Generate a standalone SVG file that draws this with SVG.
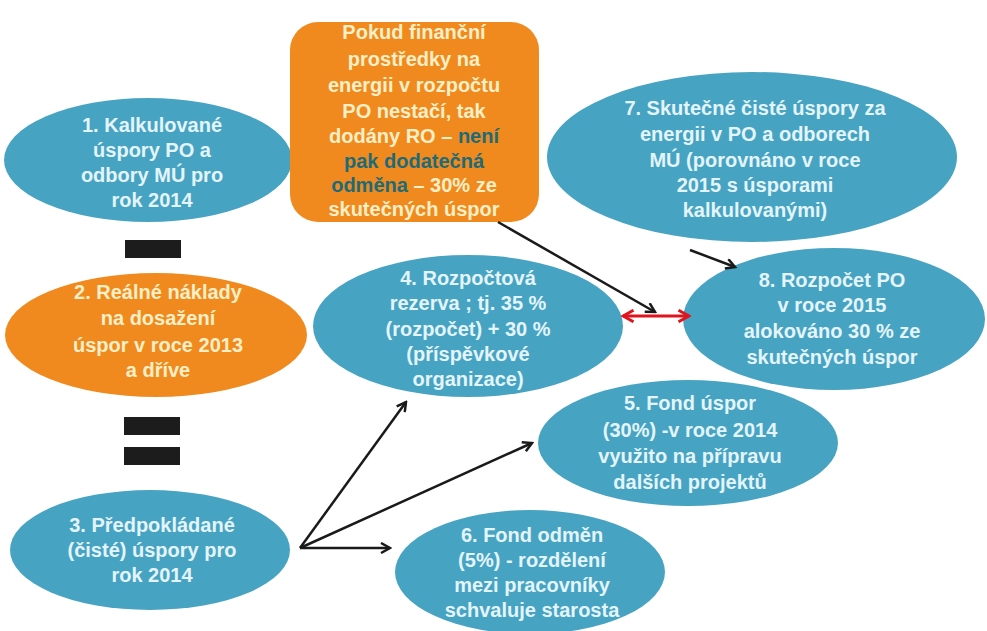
<svg xmlns="http://www.w3.org/2000/svg" width="987" height="631" viewBox="0 0 987 631">
<defs>
<style>
.blue{fill:#47a3c2}
.orange{fill:#f08a1e}
.t{font-family:"Liberation Sans",Arial,sans-serif;font-weight:bold;font-size:20px;text-anchor:middle}
.tb{fill:#e3f5fa}
.to{fill:#fbefc6}
.hl{fill:#1d6b78}
.ln{stroke:#1a1a1a;stroke-width:2.5;fill:none}
.bar{fill:#1c1c1c}
</style>
<marker id="ah" viewBox="0 0 12 12" refX="10" refY="6" markerWidth="12" markerHeight="12" markerUnits="userSpaceOnUse" orient="auto">
<path d="M1,1 L10,6 L1,11" fill="none" stroke="#1a1a1a" stroke-width="2.5"/>
</marker>
<marker id="rh" viewBox="0 0 12 12" refX="10" refY="6" markerWidth="14" markerHeight="14" markerUnits="userSpaceOnUse" orient="auto-start-reverse">
<path d="M1,1 L10,6 L1,11" fill="none" stroke="#e0141c" stroke-width="2.5"/>
</marker>
</defs>
<rect width="987" height="631" fill="#ffffff"/>

<g id="node7">
<ellipse class="blue" cx="752" cy="157" rx="205" ry="85"/>
<text class="t tb"><tspan x="755" y="115">7. Skutečné čisté úspory  za</tspan><tspan x="755" y="141">energii v PO a odborech</tspan><tspan x="755" y="167">MÚ (porovnáno  v roce</tspan><tspan x="755" y="192">2015 s úsporami</tspan><tspan x="755" y="217">kalkulovanými)</tspan></text>
</g>

<g id="node1">
<ellipse class="blue" cx="148" cy="160" rx="144" ry="62"/>
<text class="t tb"><tspan x="152" y="132">1. Kalkulované</tspan><tspan x="152" y="157">úspory PO a</tspan><tspan x="152" y="182">odbory MÚ pro</tspan><tspan x="152" y="207">rok 2014</tspan></text>
</g>

<g id="box">
<rect class="orange" x="290" y="22" width="249" height="200" rx="28"/>
<text class="t to"><tspan x="414" y="39">Pokud finanční</tspan><tspan x="414" y="66">prostředky na</tspan><tspan x="414" y="92">energii v rozpočtu</tspan><tspan x="414" y="118">PO nestačí, tak</tspan><tspan x="414" y="143">dodány RO – <tspan class="hl">není</tspan></tspan><tspan x="414" y="168" class="hl">pak dodatečná</tspan><tspan x="414" y="192"><tspan class="hl">odměna</tspan> – 30% ze</tspan><tspan x="414" y="216">skutečných úspor</tspan></text>
</g>

<g id="minus">
<rect class="bar" x="125" y="240" width="56" height="18"/>
</g>

<g id="node2">
<ellipse class="orange" cx="156" cy="335" rx="151" ry="62"/>
<text class="t to"><tspan x="158" y="299">2. Reálné náklady</tspan><tspan x="158" y="325">na dosažení</tspan><tspan x="158" y="352">úspor v roce  2013</tspan><tspan x="158" y="377">a dříve</tspan></text>
</g>

<g id="equals">
<rect class="bar" x="124" y="417" width="56" height="18"/>
<rect class="bar" x="124" y="447" width="56" height="18"/>
</g>

<g id="node3">
<ellipse class="blue" cx="150" cy="550" rx="140" ry="60"/>
<text class="t tb"><tspan x="152" y="532">3. Předpokládané</tspan><tspan x="152" y="557">(čisté) úspory  pro</tspan><tspan x="152" y="582">rok 2014</tspan></text>
</g>

<g id="node4">
<ellipse class="blue" cx="468" cy="326" rx="155" ry="71"/>
<text class="t tb"><tspan x="468" y="285">4. Rozpočtová</tspan><tspan x="468" y="310">rezerva ; tj. 35 %</tspan><tspan x="468" y="336">(rozpočet) + 30 %</tspan><tspan x="468" y="361">(příspěvkové</tspan><tspan x="468" y="386">organizace)</tspan></text>
</g>

<g id="node8">
<ellipse class="blue" cx="834" cy="319" rx="151" ry="71"/>
<text class="t tb"><tspan x="832" y="287">8. Rozpočet PO</tspan><tspan x="832" y="312">v roce  2015</tspan><tspan x="832" y="338">alokováno 30 % ze</tspan><tspan x="832" y="364">skutečných úspor</tspan></text>
</g>

<g id="node5">
<ellipse class="blue" cx="688" cy="443" rx="150" ry="63"/>
<text class="t tb"><tspan x="690" y="410">5. Fond úspor</tspan><tspan x="690" y="437">(30%) -v roce  2014</tspan><tspan x="690" y="463">využito na přípravu</tspan><tspan x="690" y="489">dalších projektů</tspan></text>
</g>

<g id="node6">
<ellipse class="blue" cx="530" cy="572" rx="135" ry="62"/>
<text class="t tb"><tspan x="532" y="542">6. Fond odměn</tspan><tspan x="532" y="567">(5%)  - rozdělení</tspan><tspan x="532" y="592">mezi pracovníky</tspan><tspan x="532" y="617">schvaluje starosta</tspan></text>
</g>

<g id="connectors">
<path class="ln" d="M300,548 L406,402" marker-end="url(#ah)"/>
<path class="ln" d="M300,548 L532,443" marker-end="url(#ah)"/>
<path class="ln" d="M300,548 L390,548" marker-end="url(#ah)"/>
<path class="ln" d="M498,222 L655,312" marker-end="url(#ah)"/>
<path class="ln" d="M690,250 L735,267" marker-end="url(#ah)"/>
<path d="M623,316 L689,316" fill="none" stroke="#e0141c" stroke-width="3" marker-start="url(#rh)" marker-end="url(#rh)"/>
</g>
</svg>
